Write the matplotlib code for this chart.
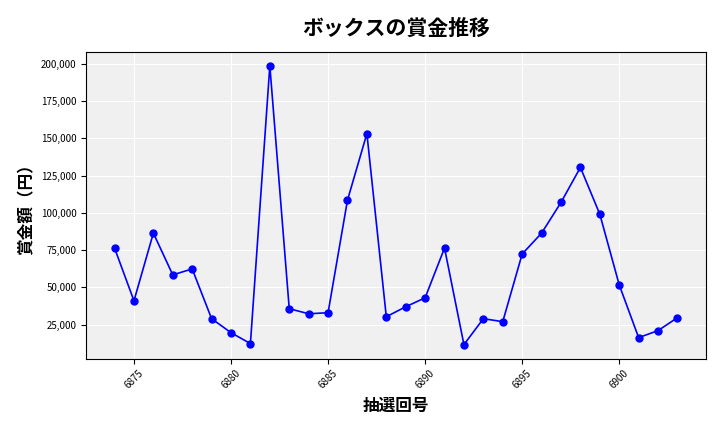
import matplotlib
matplotlib.use("Agg")
import matplotlib.pyplot as plt
from matplotlib.ticker import FuncFormatter

plt.rcParams['font.family'] = ['Noto Sans CJK JP', 'DejaVu Sans']

draws = list(range(6874, 6904))
prizes = [76400, 41000, 86400, 58400, 62400, 29000, 19600, 12300, 198700, 35700,
          32300, 33000, 108500, 153200, 30300, 37000, 43000, 76400, 11600, 29000,
          27000, 72400, 86400, 107000, 130500, 99100, 51700, 16300, 21000, 29700]

fig, ax = plt.subplots(figsize=(7.2, 4.32), dpi=100)
ax.set_facecolor('#f0f0f0')
ax.grid(True, color='white', linewidth=0.8)
ax.set_axisbelow(True)
ax.plot(draws, prizes, color='blue', marker='o', markersize=5, linewidth=1.2)
ax.set_title('ボックスの賞金推移', fontsize=15, fontweight='bold', pad=12)
ax.set_xlabel('抽選回号', fontsize=12, fontweight='bold')
ax.set_ylabel('賞金額（円）', fontsize=12, fontweight='bold')
ax.set_xticks([6875, 6880, 6885, 6890, 6895, 6900])
ax.yaxis.set_major_formatter(FuncFormatter(lambda v, p: f'{int(v):,}'))
ax.set_yticks(range(25000, 200001, 25000))
ax.tick_params(axis='x', labelrotation=45, labelsize=7)
ax.tick_params(axis='y', labelsize=7)
fig.subplots_adjust(left=0.12, right=0.98, top=0.88, bottom=0.17)
fig.savefig('out.png', dpi=100)
